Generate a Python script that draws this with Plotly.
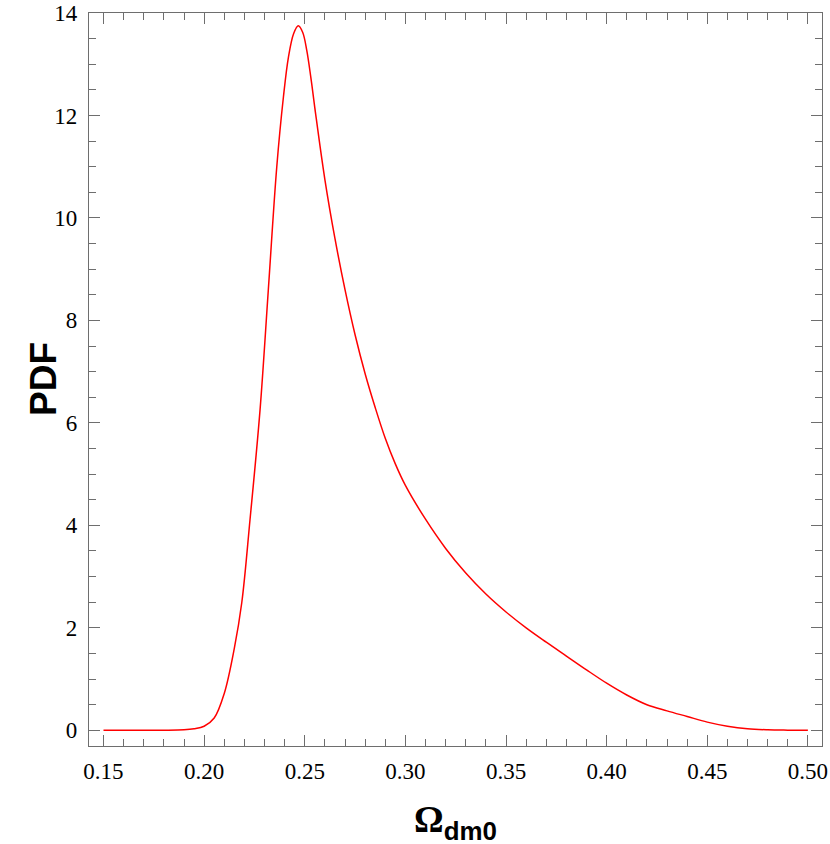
import plotly.graph_objects as go

# PDF of Omega_dm0
omega = [0.150, 0.160, 0.170, 0.180, 0.190, 0.195, 0.200, 0.205, 0.210, 0.215,
         0.2187, 0.2228, 0.2278, 0.2319, 0.2361, 0.2394, 0.2419, 0.2445, 0.2468,
         0.2490, 0.2510, 0.2530, 0.2550, 0.2600, 0.2650, 0.2700, 0.2750, 0.2800,
         0.2850, 0.2900, 0.2950, 0.3000, 0.3100, 0.3200, 0.3300, 0.3400, 0.3500,
         0.3600, 0.3700, 0.3800, 0.3900, 0.4000, 0.4100, 0.4200, 0.4300, 0.4400,
         0.4500, 0.4600, 0.4700, 0.4800, 0.4900, 0.5000]
pdf = [0.0, 0.0, 0.0, 0.002, 0.01, 0.03, 0.08, 0.24, 0.72, 1.60,
       2.49, 4.11, 6.26, 8.60, 11.0, 12.36, 13.14, 13.6, 13.75,
       13.62, 13.27, 12.75, 12.15, 10.75, 9.60, 8.60, 7.72, 6.96,
       6.30, 5.70, 5.20, 4.78, 4.12, 3.55, 3.07, 2.66, 2.31,
       2.00, 1.72, 1.45, 1.18, 0.92, 0.69, 0.50, 0.38, 0.27,
       0.16, 0.08, 0.03, 0.01, 0.003, 0.0]

x_ticks = [0.15, 0.20, 0.25, 0.30, 0.35, 0.40, 0.45, 0.50]
x_labels = ["0.15", "0.20", "0.25", "0.30", "0.35", "0.40", "0.45", "0.50"]
y_ticks = [0, 2, 4, 6, 8, 10, 12, 14]

frame = "#6e6e6e"
tickfont = dict(family="Liberation Serif, Times New Roman, serif", size=23, color="black")

fig = go.Figure()
fig.add_trace(go.Scatter(x=omega, y=pdf, mode="lines",
                         line=dict(color="#ff0000", width=1.5, shape="spline", smoothing=1.0),
                         showlegend=False))

axis_common = dict(showline=True, linecolor=frame, linewidth=1.2, mirror="ticks",
                   ticks="inside", tickcolor=frame, tickwidth=1.2, showgrid=False,
                   zeroline=False, tickfont=tickfont, automargin=False)

fig.update_xaxes(range=[0.1428, 0.507], tickvals=x_ticks, ticktext=x_labels, ticklen=11,
                 minor=dict(dtick=0.01, tick0=0.15, ticks="inside", ticklen=7,
                            tickcolor=frame, tickwidth=1, showgrid=False),
                 ticklabelstandoff=4, **axis_common)
fig.update_yaxes(range=[-0.306, 14.0], tickvals=y_ticks, ticklen=11,
                 minor=dict(dtick=0.5, tick0=0, ticks="inside", ticklen=7,
                            tickcolor=frame, tickwidth=1, showgrid=False),
                 ticklabelstandoff=6, **axis_common)

fig.add_annotation(x=0, y=0.5, xref="paper", yref="paper", xshift=-68, textangle=-90,
                   text="<b>PDF</b>", showarrow=False,
                   font=dict(family="Liberation Sans, Arial, sans-serif", size=37, color="black"))
fig.add_annotation(x=0.5, y=0, xref="paper", yref="paper", yshift=-76, yanchor="middle",
                   text="<b><span style='font-family:Liberation Serif'>Ω</span><sub>dm0</sub></b>",
                   showarrow=False,
                   font=dict(family="Liberation Sans, Arial, sans-serif", size=37, color="black"))

fig.update_layout(width=830, height=844, plot_bgcolor="white", paper_bgcolor="white",
                  margin=dict(l=89, r=8, t=13, b=98))

# page body has a default 8px margin; drop it so the figure sits at the window corner
fig.write_html("out.html", config={"displayModeBar": False},
               post_script="document.body.style.margin='0';")
